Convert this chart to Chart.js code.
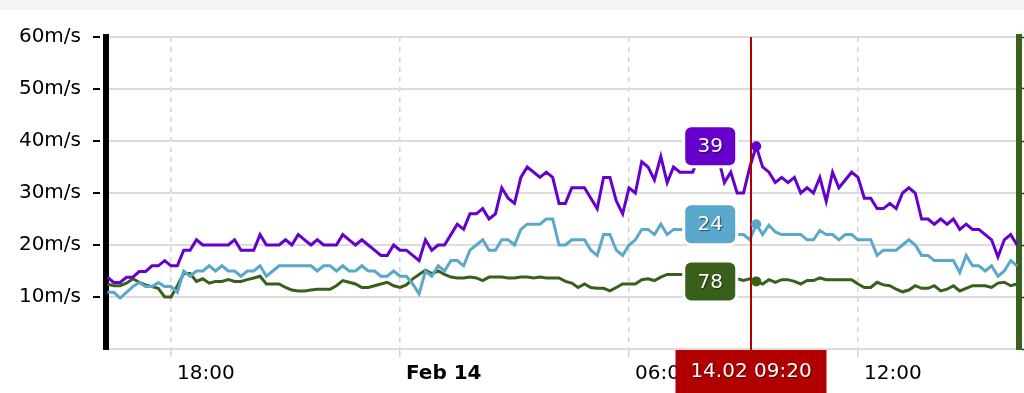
<!DOCTYPE html>
<html><head><meta charset="utf-8">
<script src="https://cdn.jsdelivr.net/npm/chart.js@4.4.0/dist/chart.umd.min.js"></script>
<style>html,body{margin:0;padding:0;background:#fff;overflow:hidden}canvas{display:block}</style>
</head><body>
<canvas id="c" width="1024" height="393"></canvas>
<script>
// ---- data (10-minute samples starting 13 Feb 16:20; x = minutes since start) ----
const stepMinutes = 10;
const gust = [
 13.8,12.8,12.8,13.8,13.8,14.9,14.9,16,16,17,
 16,16,19,19,21,20,20,20,20,20,
 21,19,19,19,22,20,20,20,21,20,
 22,21,20,21,20,20,20,22,21,20,
 21,20,19,18,18,20,19,19,18,17,
 21,19,20,20,22,24,23,26,26,27,
 25,26,31,29,28,33,35,34,33,34,
 33,28,28,31,31,31,29,27,33,33,
 28.5,26,31,30,36,35,32.5,37,32,35,
 34,34,34,37,36,38,37,32,34,30,
 30,35,39,35,34,32,33,32,33,30,
 31,30,33,28.4,34,31,32.5,34,33,29,
 29,27,27,28,27,30,31,30,25,25,
 24,25,24,25,23,24,23,23,22,21,
 17.7,21,22,20
];
const wind = [
 10.9,10.9,9.8,10.9,12,12.8,12,12,12.8,12,
 12,10.9,15,14,15,15,16,15,16,15,
 15,14,15,15,16,14,15,16,16,16,
 16,16,16,15,16,16,15,16,15,15,
 16,15,15,14,14,15,14,14,12.5,10.6,
 15,14,16,15,17,17,16,19,20,21,
 19,19,21,21,20,23,24,24,24,25,
 25,20,20,21,21,21,19,18,22,22,
 19,18,20,21,23,23,22,24,22,23,
 23,23,23,22,23,24,23,22,23,22,
 22,21,24,22,23.8,22.5,22,22,22,22,
 21,21,22.8,22,22,21,22,22,21,21,
 21,18,19,19,19,20,21,20,18,18,
 17,17,17,17,14.7,18,16,16,15,16,
 14,15,17,16
];
const direction = [
 75,73,73,76,81,77,74,72,70,60,
 60,73,87,87,78,81,76,78,78,80,
 78,78,80,82,84,75,75,75,71,68,
 67,67,68,69,69,69,73,79,77,75,
 71,71,73,75,77,73,71,74,81,86,
 91,87,90,86,83,82,82,83,82,79,
 83,83,83,82,82,83,83,82,83,82,
 82,82,78,76,71,75,71,70,70,67,
 71,75,75,75,80,81,79,83,86,86,
 86,86,85,84,84,84,83,83,82,81,
 79,81,78,75,80,77,80,80,78,75,
 79,79,82,80,80,80,80,80,75,71,
 71,77,74,73,69,66,68,73,70,70,
 73,67,69,73,67,70,73,73,73,71,
 76,77,73,75
];
const xTickValues = [100, 460, 820, 1180];
const xTickLabels = ['18:00', 'Feb 14', '06:00', '12:00'];
const boldTick = 460;
const yTickValues = [0, 10, 20, 30, 40, 50, 60];
const y2TickValues = [0, 60, 120, 180, 240, 300, 360];
const hoverIndex = 102;
const hoverLabel = '14.02 09:20';
const crosshairMinute = 1012;

const colors = { gust: '#6600cc', wind: '#5aa8cc', dir: '#38601a', red: '#b00000' };
const FONT = 'DejaVu Sans';
Chart.defaults.font.family = FONT;

const toPts = arr => arr.map((v, i) => ({ x: i * stepMinutes, y: v }));

function roundRect(c, x, y, w, h, r) {
  c.beginPath();
  c.moveTo(x + r, y); c.lineTo(x + w - r, y); c.arcTo(x + w, y, x + w, y + r, r);
  c.lineTo(x + w, y + h - r); c.arcTo(x + w, y + h, x + w - r, y + h, r);
  c.lineTo(x + r, y + h); c.arcTo(x, y + h, x, y + h - r, r);
  c.lineTo(x, y + r); c.arcTo(x, y, x + r, y, r); c.closePath();
}

const overlay = {
  id: 'overlay',
  beforeDraw(chart) {
    const c = chart.ctx;
    c.save();
    c.fillStyle = '#fff'; c.fillRect(0, 0, chart.width, chart.height);
    c.fillStyle = '#f4f4f4'; c.fillRect(0, 0, chart.width, 10);
    c.restore();
  },
  afterDraw(chart) {
    const c = chart.ctx, ys = chart.scales.y, xs = chart.scales.x, area = chart.chartArea;
    c.save();
    // left tick marks
    c.strokeStyle = '#000'; c.lineWidth = 2;
    yTickValues.forEach(v => {
      if (v === 0) return;
      const y = Math.round(ys.getPixelForValue(v));
      c.beginPath(); c.moveTo(93, y); c.lineTo(100, y); c.stroke();
    });
    // value labels
    const vals = [gust, wind, direction];
    chart.data.datasets.forEach((ds, di) => {
      const pt = chart.getDatasetMeta(di).data[hoverIndex];
      const w = 50, h = 38, bx = pt.x - 21 - w, by = pt.y - h / 2;
      roundRect(c, bx, by, w, h, 6);
      c.lineWidth = 6; c.strokeStyle = '#fff'; c.stroke();
      c.fillStyle = ds.borderColor; c.fill();
      c.save();
      c.font = '20px "' + FONT + '"';
      c.textAlign = 'center'; c.textBaseline = 'middle';
      c.shadowColor = 'rgba(0,0,0,0.55)'; c.shadowOffsetX = 1; c.shadowOffsetY = 1; c.shadowBlur = 1;
      c.fillStyle = '#fff';
      c.fillText(String(vals[di][hoverIndex]), bx + w / 2, pt.y + 1);
      c.restore();
    });
    // crosshair
    const cx = Math.round(xs.getPixelForValue(crosshairMinute));
    c.strokeStyle = colors.red; c.lineWidth = 2;
    c.beginPath(); c.moveTo(cx, area.top); c.lineTo(cx, area.bottom + 2); c.stroke();
    // markers
    chart.data.datasets.forEach((ds, di) => {
      const pt = chart.getDatasetMeta(di).data[hoverIndex];
      c.fillStyle = ds.borderColor; c.beginPath(); c.arc(pt.x, pt.y, 5, 0, Math.PI * 2); c.fill();
    });
    // bottom time label
    c.fillStyle = colors.red;
    c.fillRect(cx - 75.5, area.bottom + 1, 151, 50);
    c.font = '20px "' + FONT + '"';
    c.textAlign = 'center'; c.textBaseline = 'middle';
    c.shadowColor = 'rgba(0,0,0,0.55)'; c.shadowOffsetX = 1; c.shadowOffsetY = 1; c.shadowBlur = 1;
    c.fillStyle = '#fff';
    c.fillText(hoverLabel, cx, 371.5);
    c.restore();
  }
};

new Chart(document.getElementById('c'), {
  type: 'line',
  data: {
    datasets: [
      { label: 'Gust', data: toPts(gust), yAxisID: 'y', borderColor: colors.gust, backgroundColor: colors.gust, borderWidth: 3, pointRadius: 0, tension: 0 },
      { label: 'Wind', data: toPts(wind), yAxisID: 'y', borderColor: colors.wind, backgroundColor: colors.wind, borderWidth: 3, pointRadius: 0, tension: 0 },
      { label: 'Direction', data: toPts(direction), yAxisID: 'y2', borderColor: colors.dir, backgroundColor: colors.dir, borderWidth: 3, pointRadius: 0, tension: 0 }
    ]
  },
  options: {
    responsive: false, maintainAspectRatio: false, animation: false,
    layout: { padding: { top: 34, left: 0, right: 0, bottom: 0 } },
    plugins: { legend: { display: false }, tooltip: { enabled: false } },
    scales: {
      x: {
        type: 'linear', min: -2.2, max: 1433.1,
        afterBuildTicks: s => { s.ticks = xTickValues.map(v => ({ value: v })); },
        afterFit: s => { s.height = 44; },
        ticks: {
          autoSkip: false, maxRotation: 0, align: 'start', labelOffset: 6, padding: 5, color: '#000',
          callback: v => xTickLabels[xTickValues.indexOf(v)],
          font: ctx => ({ family: FONT, size: 20, weight: (ctx.tick && ctx.tick.value === boldTick) ? 'bold' : 'normal' })
        },
        grid: { color: '#d4d4d4', lineWidth: 1.5, drawTicks: true, tickLength: 8, tickColor: '#d4d4d4', tickBorderDash: [] },
        border: { display: false, dash: [5, 5] }
      },
      y: {
        position: 'left', min: 0, max: 60,
        afterBuildTicks: s => { s.ticks = yTickValues.map(v => ({ value: v })); },
        afterFit: s => { s.width = 106; },
        ticks: { padding: 25, color: '#000', font: { family: FONT, size: 20 }, callback: v => v === 0 ? '' : v + 'm/s' },
        grid: { color: '#dcdcdc', lineWidth: 2, drawTicks: false },
        border: { display: true, color: '#000', width: 6 }
      },
      y2: {
        position: 'right', min: 0, max: 360,
        afterBuildTicks: s => { s.ticks = y2TickValues.map(v => ({ value: v })); },
        afterFit: s => { s.width = 5; },
        ticks: { display: false },
        grid: { drawOnChartArea: false, drawTicks: true, tickLength: 8, tickColor: '#333', tickWidth: 1.5 },
        border: { display: true, color: colors.dir, width: 6 }
      }
    }
  },
  plugins: [overlay]
});
</script>
</body></html>
